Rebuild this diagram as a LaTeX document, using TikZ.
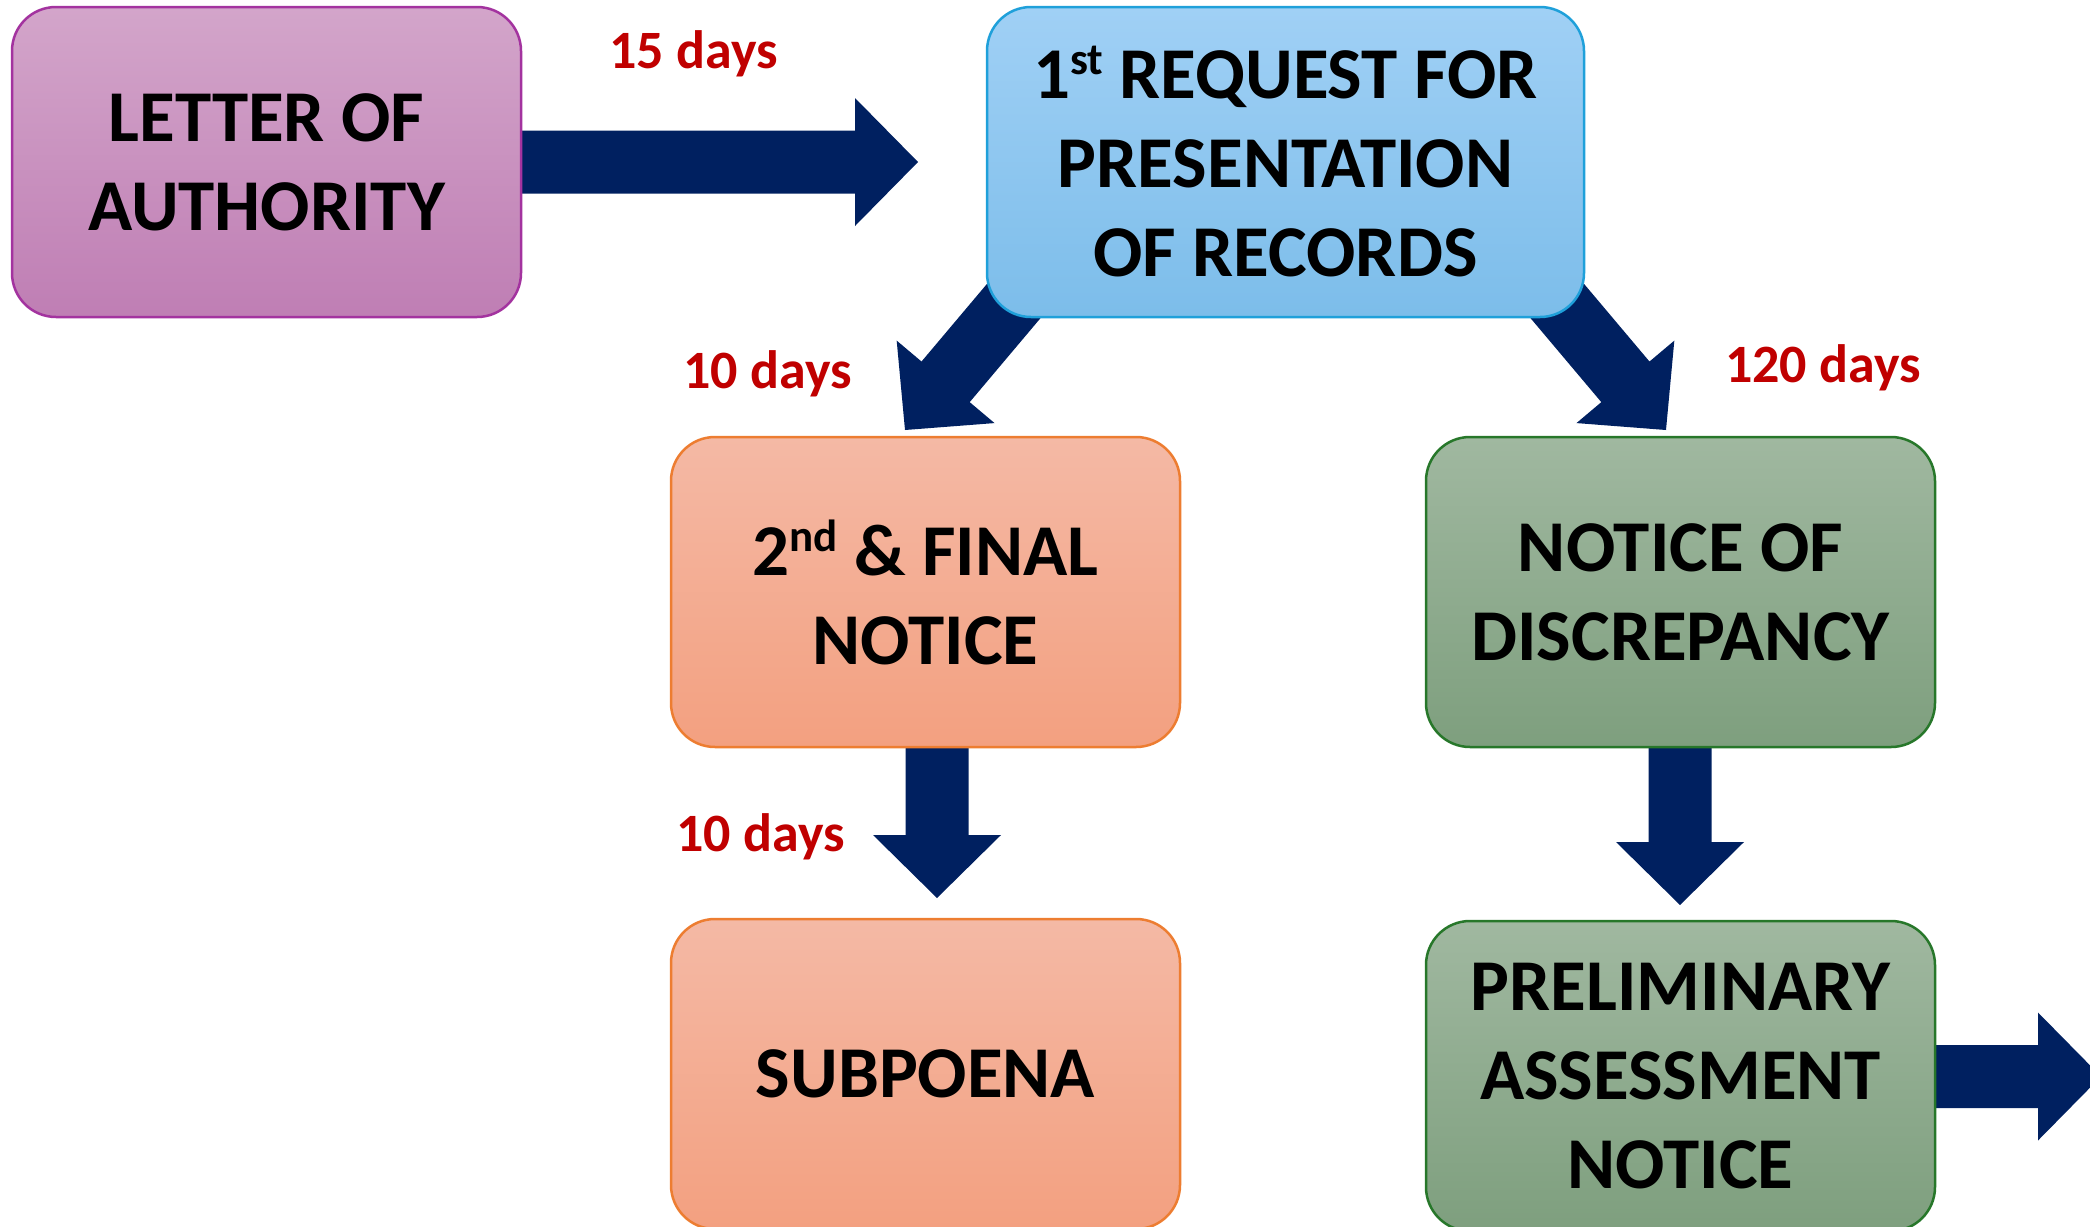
\documentclass[tikz,border=0pt]{standalone}
\usepackage{fontspec}
\setmainfont{Carlito}
\usetikzlibrary{calc,backgrounds}
\definecolor{arrowc}{HTML}{002060}
\definecolor{lblc}{HTML}{C00000}
\definecolor{purpD}{HTML}{A3339F}
\definecolor{purpT}{HTML}{D3A5CA}
\definecolor{purpB}{HTML}{BF7EB4}
\definecolor{blueD}{HTML}{1FA0DA}
\definecolor{blueT}{HTML}{A0D0F5}
\definecolor{blueB}{HTML}{7CBDEA}
\definecolor{oranD}{HTML}{ED7D31}
\definecolor{oranT}{HTML}{F4B9A5}
\definecolor{oranB}{HTML}{F3A080}
\definecolor{grenD}{HTML}{27772A}
\definecolor{grenT}{HTML}{A0B8A0}
\definecolor{grenB}{HTML}{7E9F7E}
\newcommand\sups[1]{\raisebox{12pt}{\fontsize{22.5pt}{22.5pt}\selectfont #1}}
\newcommand\blockarr[2]{%
  \path ($(#2)!31.5pt!(#1)$) coordinate (hb);
  \fill[arrowc] ($(#1)!15.75pt!90:(#2)$) -- ($(hb)!15.75pt!-90:(#1)$) --
    ($(hb)!32pt!-90:(#1)$) -- (#2) -- ($(hb)!32pt!90:(#1)$) --
    ($(hb)!15.75pt!90:(#1)$) -- ($(#1)!15.75pt!-90:(#2)$) -- cycle;}
\tikzset{
  box/.style={rounded corners=22pt, line width=1.25pt, align=center,
    minimum width=254.5pt, minimum height=155pt, inner sep=0pt,
    font=\fontsize{36.5pt}{44.5pt}\selectfont\bfseries, text=black},
  lbl/.style={text=lblc, font=\fontsize{27pt}{30pt}\selectfont\bfseries, inner sep=0pt, anchor=base}
}
\begin{document}
\begin{tikzpicture}[x=0.5pt,y=-0.5pt]
\useasboundingbox (0,0) rectangle (2090,1227);
\node[box, draw=purpD, top color=purpT, bottom color=purpB] (letter) at (266.5,162) {LETTER OF\\AUTHORITY};
\node[box, draw=blueD, top color=blueT, bottom color=blueB, minimum width=298.5pt] (req) at (1285.5,162) {1\sups{st} REQUEST FOR\\PRESENTATION\\OF RECORDS};
\node[box, draw=oranD, top color=oranT, bottom color=oranB] (fin) at (925.5,592) {2\sups{nd} \& FINAL\\NOTICE};
\node[box, draw=grenD, top color=grenT, bottom color=grenB] (disc) at (1680.5,592) {NOTICE OF\\DISCREPANCY};
\node[box, draw=oranD, top color=oranT, bottom color=oranB] (subp) at (925.5,1074) {SUBPOENA};
\node[box, draw=grenD, top color=grenT, bottom color=grenB] (prel) at (1680.5,1076) {PRELIMINARY\\ASSESSMENT\\NOTICE};
\coordinate (t1) at (918,162);
\coordinate (s2) at (1066,239);
\coordinate (t2) at (905,430);
\coordinate (s3) at (1505,239);
\coordinate (t3) at (1666,430);
\coordinate (s4) at (937,700);
\coordinate (t4) at (937,898);
\coordinate (s5) at (1680,700);
\coordinate (t5) at (1680,905);
\coordinate (s6) at (1900,1076.5);
\coordinate (t6) at (2101,1076.5);
\begin{scope}[on background layer]
\blockarr{letter.center}{t1}
\blockarr{s2}{t2}
\blockarr{s3}{t3}
\blockarr{s4}{t4}
\blockarr{s5}{t5}
\blockarr{s6}{t6}
\end{scope}
\node[lbl] (l1) at (693.5,68) {15 days};
\node[lbl] (l2) at (767.5,388) {10 days};
\node[lbl] (l3) at (1823,382) {120 days};
\node[lbl] (l4) at (760.5,851) {10 days};
\end{tikzpicture}
\end{document}
